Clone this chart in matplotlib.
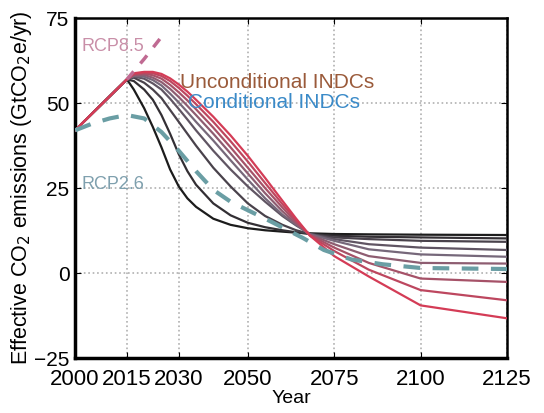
import numpy as np
import matplotlib.pyplot as plt
from matplotlib.colors import LinearSegmentedColormap

plt.rcParams['font.family'] = ['Liberation Sans', 'DejaVu Sans']

# emission pathways, darkest (earliest decline) to reddest (latest decline)
years = [2000, 2015, 2017, 2020, 2022.5, 2025, 2027.5, 2030, 2032.5, 2035, 2040,
         2045, 2050, 2055, 2060, 2064, 2068, 2075, 2085, 2100, 2125]
pathways = [
    [42, 57, 54.0, 48.5, 43.0, 37.0, 30.5, 25.5, 22.0, 19.5, 16.0,
     14.2, 13.2, 12.6, 12.2, 11.9, 11.7, 11.5, 11.4, 11.3, 11.2],
    [42, 57, 56.5, 54.0, 51.0, 46.5, 41.0, 35.0, 30.0, 26.0, 20.5,
     17.0, 14.8, 13.5, 12.6, 12.0, 11.5, 11.0, 10.7, 10.5, 10.2],
    [42, 57, 57.5, 56.0, 54.0, 51.5, 48.0, 44.5, 41.0, 37.5, 31.0,
     25.5, 20.5, 16.8, 14.2, 12.6, 11.5, 10.5, 10.0, 9.5, 9.2],
    [42, 57, 57.8, 57.2, 55.8, 54.0, 51.3, 48.3, 45.2, 42.0, 36.0,
     30.5, 25.5, 21.0, 16.8, 14.0, 11.5, 10.0, 8.5, 7.5, 6.8],
    [42, 57, 58.0, 57.8, 56.8, 55.2, 52.8, 50.2, 47.4, 44.5, 39.0,
     33.2, 27.5, 22.0, 17.2, 14.2, 11.4, 9.5, 7.0, 5.5, 4.8],
    [42, 57, 58.2, 58.3, 57.5, 56.2, 54.2, 51.8, 49.2, 46.5, 41.0,
     35.2, 29.3, 23.5, 18.2, 14.5, 11.3, 8.5, 5.0, 3.0, 2.8],
    [42, 57, 58.4, 58.7, 58.2, 57.2, 55.4, 53.2, 50.8, 48.2, 42.8,
     37.0, 31.0, 25.0, 19.3, 15.0, 11.2, 7.5, 3.0, -1.6, -2.6],
    [42, 57, 58.6, 59.0, 58.8, 58.0, 56.5, 54.5, 52.2, 49.7, 44.5,
     38.8, 32.8, 26.5, 20.3, 15.5, 11.0, 6.5, 1.0, -5.0, -8.0],
    [42, 57, 58.8, 59.2, 59.2, 58.6, 57.3, 55.5, 53.4, 51.0, 46.0,
     40.5, 34.5, 28.0, 21.3, 16.0, 11.0, 5.0, -1.0, -9.5, -13.3],
]

rcp26_years = [2000, 2005, 2010, 2015, 2020, 2025, 2030, 2035, 2040, 2045, 2050,
               2057, 2066, 2072, 2080, 2089, 2100, 2125]
rcp26 = [42, 44, 45.5, 46.5, 45.5, 41.5, 36, 30, 24.5, 21, 18.5, 15, 10.3, 6.8, 4, 2.6, 1.5, 1.2]

rcp85_years = [2015, 2020, 2025]
rcp85 = [57, 63, 69.5]

xticks = [2000, 2015, 2030, 2050, 2075, 2100, 2125]
yticks = [-25, 0, 25, 50, 75]

fig = plt.figure(figsize=(5.44, 4.13), dpi=100)
ax = fig.add_axes([0.138, 0.133, 0.794, 0.823])

cmap = LinearSegmentedColormap.from_list('path', ['#1c1c1c', '#76687a', '#d43c56'])
n = len(pathways)
for i, p in enumerate(pathways):
    ax.plot(years, p, color=cmap(i / (n - 1)), lw=1.6, zorder=3)

ax.plot(rcp26_years, rcp26, color='#6a9ea4', lw=3, ls=(0, (4, 3)), zorder=4)
ax.plot(rcp85_years, rcp85, color='#c06a92', lw=2.5, ls=(0, (3, 3)), zorder=4)

ax.text(2002, 66.8, 'RCP8.5', color='#c98fa8', fontsize=13, va='center')
ax.text(2030.4, 56.2, 'Unconditional INDCs', color='#9a5a3a', fontsize=15, va='center')
ax.text(2032.7, 50.3, 'Conditional INDCs', color='#3a8ac8', fontsize=15, va='center')
ax.text(2002, 26.2, 'RCP2.6', color='#7fa0ae', fontsize=13, va='center')

ax.set_xlim(2000, 2125)
ax.set_ylim(-25, 75)
ax.set_xticks(xticks)
ax.set_yticks(yticks)
ax.tick_params(axis='x', labelsize=16, direction='in', top=True, length=4, pad=8)
ax.tick_params(axis='y', labelsize=15, direction='in', right=True, length=4, pad=4)
ax.grid(True, ls=':', color='#b0b0b0', lw=1.2)

for side in ['left', 'bottom']:
    ax.spines[side].set_linewidth(2.5)
for side in ['top', 'right']:
    ax.spines[side].set_linewidth(1.8)

ax.set_xlabel('Year', fontsize=14, labelpad=0)
ax.set_ylabel('Effective CO$_2$ emissions (GtCO$_2$e/yr)', fontsize=15.5, labelpad=0)

fig.savefig('out.png', dpi=100)
